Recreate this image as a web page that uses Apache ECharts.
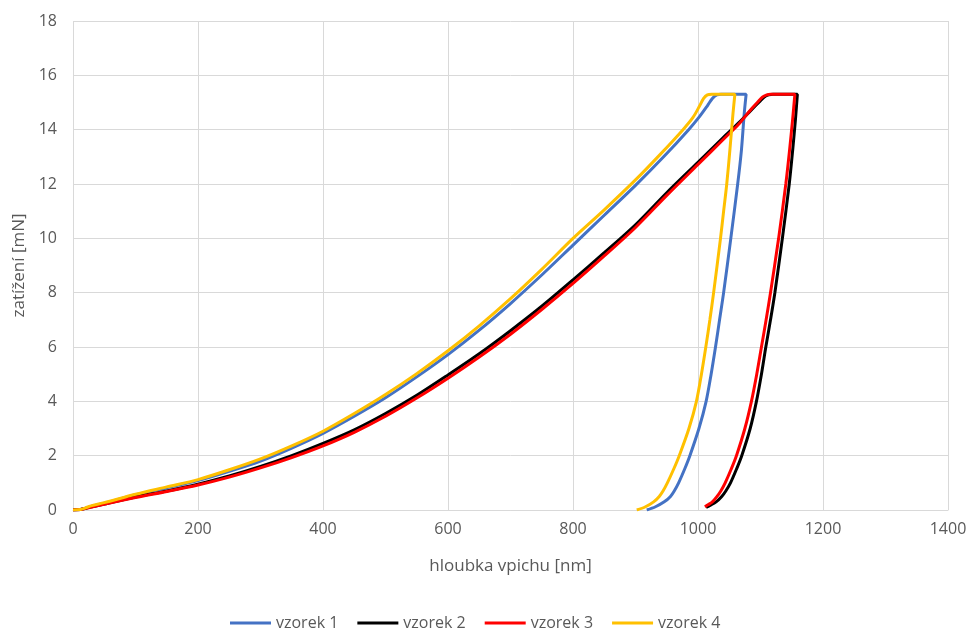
<!DOCTYPE html>
<html>
<head>
<meta charset="utf-8">
<script src="https://cdn.jsdelivr.net/npm/echarts@6/dist/echarts.min.js"></script>
<style>
  html, body { margin: 0; padding: 0; background: #ffffff; }
  #chart { width: 970px; height: 630px; }
</style>
</head>
<body>
<div id="chart"></div>
<script>
// hloubka vpichu [nm], zatížení [mN] - zatěžování a pak odlehčení
const vzorek1 = [
  [0, 0], [12, 0.02], [20, 0.07], [30, 0.14], [50, 0.25], [100, 0.56], [150, 0.82],
  [200, 1.08], [250, 1.42], [300, 1.8], [350, 2.28], [400, 2.82], [450, 3.45],
  [500, 4.13], [550, 4.9], [600, 5.72], [650, 6.62], [700, 7.6], [750, 8.65],
  [800, 9.75], [850, 10.85], [900, 11.95], [945, 13.0], [985, 14.0], [1003, 14.5],
  [1015, 14.88], [1023, 15.15], [1030, 15.28], [1037, 15.3], [1077, 15.3],
  [1074, 14.6], [1069.5, 13.25], [1063.5, 12], [1052.5, 10], [1041, 8], [1034.5, 7],
  [1028, 6], [1021, 5], [1013, 4], [1001.5, 3], [987, 2], [978.5, 1.5], [969, 1],
  [962, 0.7], [956, 0.5], [946, 0.3], [932, 0.12], [918, 0]
]
const vzorek2 = [
  [0, 0], [12, 0.02], [20, 0.06], [30, 0.12], [50, 0.22], [100, 0.48], [150, 0.7],
  [200, 0.95], [250, 1.25], [300, 1.6], [350, 2.0], [400, 2.45], [450, 2.95],
  [500, 3.55], [550, 4.22], [600, 4.97], [650, 5.75], [700, 6.6], [750, 7.5],
  [800, 8.47], [850, 9.47], [900, 10.5], [950, 11.68], [1000, 12.8], [1040, 13.7],
  [1065, 14.25], [1085, 14.72], [1098, 15.02], [1106, 15.2], [1113, 15.28],
  [1120, 15.3], [1159, 15.3],
  [1156, 14.4], [1151.5, 13.25], [1146, 12], [1135, 10], [1123, 8], [1116, 7],
  [1108.5, 6], [1101.5, 5], [1093.5, 4], [1083.5, 3], [1070, 2], [1061.5, 1.5],
  [1052, 1], [1044.5, 0.7], [1038, 0.5], [1029, 0.3], [1020, 0.18], [1013, 0.1]
]
const vzorek3 = [
  [0, 0], [12, 0.02], [20, 0.06], [30, 0.11], [50, 0.21], [100, 0.46], [150, 0.68],
  [200, 0.92], [250, 1.21], [300, 1.55], [350, 1.93], [400, 2.36], [450, 2.86],
  [500, 3.45], [550, 4.12], [600, 4.85], [650, 5.63], [700, 6.47], [750, 7.38],
  [800, 8.34], [850, 9.35], [900, 10.4], [950, 11.58], [1000, 12.72], [1040, 13.63],
  [1065, 14.2], [1083, 14.7], [1095, 15.0], [1103, 15.2], [1110, 15.28],
  [1116, 15.3], [1155, 15.3],
  [1151.5, 14.4], [1146.5, 13.25], [1140.5, 12], [1129, 10], [1116, 8], [1109, 7],
  [1101.5, 6], [1094, 5], [1085.5, 4], [1075, 3], [1061.5, 2], [1053, 1.5],
  [1043.5, 1], [1036.5, 0.7], [1030.5, 0.5], [1023, 0.3], [1016, 0.19], [1011, 0.12]
]
const vzorek4 = [
  [0, 0], [12, 0.02], [20, 0.08], [30, 0.16], [50, 0.27], [100, 0.58], [150, 0.85],
  [200, 1.12], [250, 1.48], [300, 1.88], [350, 2.36], [400, 2.9], [450, 3.55],
  [500, 4.25], [550, 5.02], [600, 5.86], [650, 6.78], [700, 7.78], [750, 8.86],
  [800, 10.0], [850, 11.05], [900, 12.15], [940, 13.1], [976, 14.0], [992, 14.45],
  [1002, 14.85], [1009, 15.15], [1015, 15.28], [1022, 15.3], [1059, 15.3],
  [1056, 14.6], [1051, 13.25], [1046, 12], [1041, 11], [1036, 10], [1025, 8],
  [1019, 7], [1012.5, 6], [1005.5, 5], [997.5, 4], [985.5, 3], [970, 2], [961, 1.5],
  [951, 1], [944, 0.7], [938, 0.5], [929, 0.3], [916, 0.12], [902, 0]
]

const seriesNames = ['vzorek 1', 'vzorek 2', 'vzorek 3', 'vzorek 4']
const seriesData = [vzorek1, vzorek2, vzorek3, vzorek4]
const seriesColors = ['#4472C4', '#000000', '#FF0000', '#FFC000']

const chart = echarts.init(document.getElementById('chart'))
const textColor = '#595959'
const fontFamily = '"Open Sans", "Noto Sans", sans-serif'

const option = {
  backgroundColor: '#ffffff',
  animation: false,
  textStyle: { fontFamily: fontFamily },
  grid: {
    left: 73,
    right: 22,
    top: 21,
    bottom: 120
  },
  legend: {
    top: 610,
    left: 225,
    icon: 'rect',
    itemWidth: 41,
    itemHeight: 3,
    itemGap: 19,
    data: seriesNames,
    textStyle: { color: textColor, fontSize: 16, fontFamily: fontFamily }
  },
  xAxis: {
    type: 'value',
    min: 0,
    max: 1400,
    interval: 200,
    name: 'hloubka vpichu [nm]',
    nameLocation: 'middle',
    nameGap: 48,
    nameTextStyle: { color: textColor, fontSize: 17, fontFamily: fontFamily },
    axisLine: { show: true, lineStyle: { color: '#d9d9d9', width: 1 } },
    axisTick: { show: false },
    axisLabel: { color: textColor, fontSize: 16, margin: 11, formatter: (v) => String(v) },
    splitLine: { show: true, lineStyle: { color: '#d9d9d9', width: 1 } }
  },
  yAxis: {
    type: 'value',
    min: 0,
    max: 18,
    interval: 2,
    name: 'zatížení [mN]',
    nameLocation: 'middle',
    nameRotate: 90,
    nameGap: 44,
    nameTextStyle: { color: textColor, fontSize: 17, fontFamily: fontFamily },
    axisLine: { show: false },
    axisTick: { show: false },
    axisLabel: { color: textColor, fontSize: 16, margin: 16 },
    splitLine: { show: true, lineStyle: { color: '#d9d9d9', width: 1 } }
  },
  series: seriesNames.map((name, i) => ({
    name: name,
    type: 'line',
    data: seriesData[i],
    showSymbol: false,
    symbol: 'none',
    smooth: 0.3,
    lineStyle: { color: seriesColors[i], width: 3 },
    itemStyle: { color: seriesColors[i] }
  }))
}

chart.setOption(option)
</script>
</body>
</html>
